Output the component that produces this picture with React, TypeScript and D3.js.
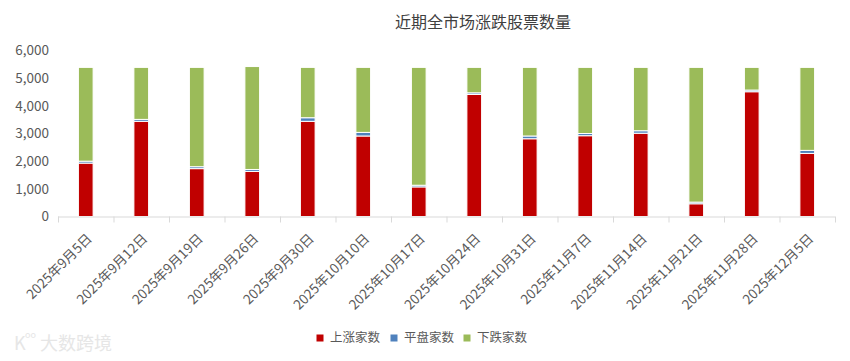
import * as d3 from "d3";

const dates = [
  "2025年9月5日", "2025年9月12日", "2025年9月19日", "2025年9月26日", "2025年9月30日",
  "2025年10月10日", "2025年10月17日", "2025年10月24日", "2025年10月31日", "2025年11月7日",
  "2025年11月14日", "2025年11月21日", "2025年11月28日", "2025年12月5日",
];
const upCount = [1930, 3440, 1730, 1630, 3440, 2910, 1070, 4410, 2810, 2920, 3010, 460, 4510, 2280];
const flatCount = [70, 70, 70, 70, 130, 130, 60, 60, 100, 80, 90, 60, 60, 110];
const downCount = [3390, 1880, 3590, 3720, 1820, 2350, 4260, 920, 2480, 2390, 2290, 4870, 820, 3000];
const yTicks = [0, 1000, 2000, 3000, 4000, 5000, 6000];

const seriesKeys = ["up", "flat", "down"];
const seriesNames = ["上涨家数", "平盘家数", "下跌家数"];
const colors = ["#C00000", "#4F81BD", "#9BBB59"];

const W = 850;
const H = 361;
const FONT = "'Noto Sans CJK SC', 'Noto Sans', sans-serif";

export default function App() {
  const rows = dates.map((d, i) => ({ date: d, up: upCount[i], flat: flatCount[i], down: downCount[i] }));
  const stacked = d3.stack<any>().keys(seriesKeys)(rows);

  const x = d3.scaleBand().domain(dates).range([58, 835]).paddingInner(0.735).paddingOuter(0.3675);
  const y = d3.scaleLinear().domain([0, 6000]).range([216.5, 50.5]);
  const step = x.step();
  const axisY = y(0);
  const fmt = d3.format(",");

  // legend layout
  const legendX = [320, 394, 467];

  return (
    <svg width={W} height={H} style={{ position: "absolute", left: 0, top: 0, background: "#fff" }} fontFamily={FONT}>
      <text x={483} y={28} textAnchor="middle" fontSize={16} fill="#404040">近期全市场涨跌股票数量</text>

      {/* y axis labels */}
      {yTicks.map((t) => (
        <text key={t} x={49} y={y(t)} dy="0.35em" textAnchor="end" fontSize={13.5} fill="#595959">{fmt(t)}</text>
      ))}

      {/* bars */}
      {stacked.map((s, si) => (
        <g key={s.key} fill={colors[si]}>
          {s.map((d, i) => (
            <rect key={i} x={x(dates[i])} y={y(d[1])} width={x.bandwidth()} height={y(d[0]) - y(d[1])}
              stroke="#fff" strokeWidth={1} />
          ))}
        </g>
      ))}

      {/* x axis */}
      <line x1={58} x2={835} y1={axisY + 0.5} y2={axisY + 0.5} stroke="#d9d9d9" />
      {d3.range(dates.length + 1).map((i) => (
        <line key={i} x1={58 + i * step + 0.5} x2={58 + i * step + 0.5} y1={axisY} y2={axisY + 6} stroke="#d9d9d9" />
      ))}
      {dates.map((d) => {
        const cx = (x(d) ?? 0) + x.bandwidth() / 2 + 7;
        const cy = axisY + 23;
        return (
          <text key={d} x={cx} y={cy} textAnchor="end" fontSize={13.5} fill="#595959"
            transform={`rotate(-45 ${cx} ${cy})`}>{d}</text>
        );
      })}

      {/* legend */}
      {seriesNames.map((n, i) => (
        <g key={n}>
          <rect x={legendX[i] - 3.5} y={334.5} width={7} height={7} fill={colors[i]} />
          <text x={legendX[i] + 10} y={338} dy="0.35em" fontSize={12.5} fill="#595959">{n}</text>
        </g>
      ))}

      {/* watermark */}
      <text x={40} y={350} fontSize={18} fill="#e6e6e6">大数跨境</text>
      <text x={14} y={350} fontSize={18} fill="#e6e6e6">K</text>
      <text x={25} y={338} fontSize={9} fill="#e6e6e6">oo</text>
    </svg>
  );
}
